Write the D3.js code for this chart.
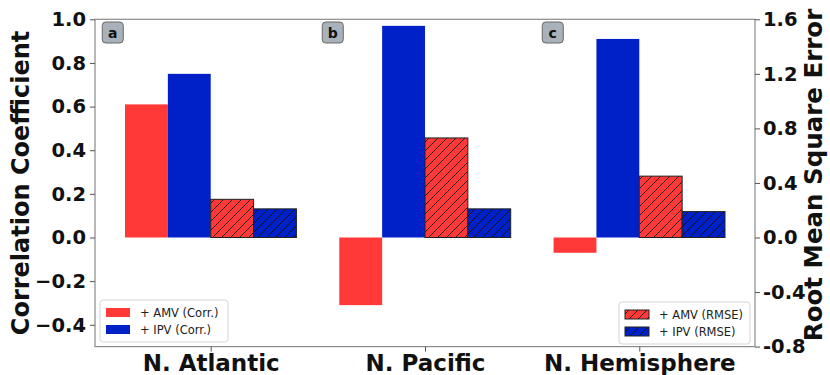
<!DOCTYPE html>
<html>
<head>
<meta charset="utf-8">
<script src="https://cdn.jsdelivr.net/npm/d3@7"></script>
<style>
  html, body { margin: 0; padding: 0; background: #fff; }
  svg { display: block; font-family: "DejaVu Sans", sans-serif; }
</style>
</head>
<body>
<svg id="chart" width="830" height="375"></svg>
<script>
const categories = ["N. Atlantic", "N. Pacific", "N. Hemisphere"];
const panelLabels = ["a", "b", "c"];
const amvCorr = [0.61, -0.31, -0.07];
const ipvCorr = [0.75, 0.97, 0.91];
const amvRmse = [0.28, 0.73, 0.45];
const ipvRmse = [0.21, 0.21, 0.19];
const corrTicks = [-0.4, -0.2, 0.0, 0.2, 0.4, 0.6, 0.8, 1.0];
const rmseTicks = [-0.8, -0.4, 0.0, 0.4, 0.8, 1.2, 1.6];
const rmseTickLabels = ["-0.8", "-0.4", "0.0", "0.4", "0.8", "1.2", "1.6"];
const seriesNames = ["+ AMV (Corr.)", "+ IPV (Corr.)", "+ AMV (RMSE)", "+ IPV (RMSE)"];

const RED = "#ff3838", BLUE = "#0020c8";
const svg = d3.select("#chart");
const pLeft = 95, pRight = 755, pTop = 19.3, pBottom = 346.6;

const defs = svg.append("defs");
function hatch(id, color) {
  const p = defs.append("pattern").attr("id", id).attr("patternUnits", "userSpaceOnUse")
    .attr("width", 9).attr("height", 9);
  p.append("rect").attr("width", 9).attr("height", 9).attr("fill", color);
  p.append("path").attr("d", "M-2,2 L2,-2 M0,9 L9,0 M7,11 L11,7")
    .attr("stroke", "#111").attr("stroke-width", 0.9);
}
hatch("hRed", RED);
hatch("hBlue", BLUE);

const x = d3.scaleLinear().domain([-0.54, 2.54]).range([pLeft, pRight]);
const yL = d3.scaleLinear().domain([-0.5, 1.0]).range([pBottom, pTop]);
const yR = d3.scaleLinear().domain([-0.8, 1.6]).range([pBottom, pTop]);
const bw = 0.2;

const series = [
  {vals: amvCorr, off: -0.3, y: yL, fill: RED, stroke: "none"},
  {vals: ipvCorr, off: -0.1, y: yL, fill: BLUE, stroke: "none"},
  {vals: amvRmse, off: 0.1, y: yR, fill: "url(#hRed)", stroke: "#222"},
  {vals: ipvRmse, off: 0.3, y: yR, fill: "url(#hBlue)", stroke: "#222"}
];
series.forEach(s => {
  svg.append("g").selectAll("rect").data(s.vals).join("rect")
    .attr("x", (d, i) => x(i + s.off - bw / 2))
    .attr("width", x(bw) - x(0))
    .attr("y", d => Math.min(s.y(d), s.y(0)))
    .attr("height", d => Math.abs(s.y(d) - s.y(0)))
    .attr("fill", s.fill)
    .attr("stroke", s.stroke)
    .attr("stroke-width", s.stroke === "none" ? 0 : 1);
});

// frame
svg.append("rect").attr("x", pLeft).attr("y", pTop).attr("width", pRight - pLeft).attr("height", pBottom - pTop)
  .attr("fill", "none").attr("stroke", "#8a8a8a").attr("stroke-width", 1.2);

// left axis
const gL = svg.append("g").attr("transform", `translate(${pLeft},0)`)
  .call(d3.axisLeft(yL).tickValues(corrTicks).tickSize(5).tickPadding(4)
    .tickFormat(d => d3.format(".1f")(d).replace("-", "\u2212")));
gL.select(".domain").remove();
gL.selectAll("line").attr("stroke", "#555");
gL.selectAll("text").attr("font-size", 19.5).attr("font-weight", "bold").attr("fill", "#111")
  .attr("font-family", "DejaVu Sans");

// right axis
const gR = svg.append("g").attr("transform", `translate(${pRight},0)`)
  .call(d3.axisRight(yR).tickValues(rmseTicks).tickSize(5).tickPadding(3)
    .tickFormat((d, i) => rmseTickLabels[i]));
gR.select(".domain").remove();
gR.selectAll("line").attr("stroke", "#555");
gR.selectAll("text").attr("font-size", 19.5).attr("font-weight", "bold").attr("fill", "#111")
  .attr("font-family", "DejaVu Sans");

// bottom axis
const gB = svg.append("g").attr("transform", `translate(0,${pBottom})`)
  .call(d3.axisBottom(x).tickValues([0, 1, 2]).tickSize(5).tickPadding(3)
    .tickFormat((d, i) => categories[i]));
gB.select(".domain").remove();
gB.selectAll("line").attr("stroke", "#555");
gB.selectAll("text").attr("font-size", 23).attr("font-weight", "bold").attr("fill", "#111")
  .attr("font-family", "DejaVu Sans");

// axis titles
svg.append("text").attr("transform", `translate(29,${(pTop + pBottom) / 2}) rotate(-90)`)
  .attr("text-anchor", "middle").attr("font-size", 24).attr("font-weight", "bold").attr("fill", "#111")
  .text("Correlation Coefficient");
svg.append("text").attr("transform", `translate(815,${(pTop + pBottom) / 2 - 8}) rotate(-90)`)
  .attr("text-anchor", "middle").attr("dominant-baseline", "middle")
  .attr("font-size", 24.5).attr("font-weight", "bold").attr("fill", "#111")
  .text("Root Mean Square Error");

// panel labels
panelLabels.forEach((t, i) => {
  const bx = pLeft + (pRight - pLeft) * (0.011 + i / 3);
  const g = svg.append("g").attr("transform", `translate(${bx},22)`);
  g.append("rect").attr("width", 21).attr("height", 21).attr("rx", 3.5)
    .attr("fill", "#a9b2bb").attr("stroke", "#666").attr("stroke-width", 1);
  g.append("text").attr("x", 10.5).attr("y", 15.5).attr("text-anchor", "middle")
    .attr("font-size", 14).attr("font-weight", "bold").attr("fill", "#111").text(t);
});

// legends
function legend(x0, y0, w, items) {
  const g = svg.append("g").attr("transform", `translate(${x0},${y0})`);
  g.append("rect").attr("width", w).attr("height", 42).attr("rx", 3)
    .attr("fill", "#fff").attr("fill-opacity", 0.85).attr("stroke", "#d5d5d5");
  items.forEach((it, k) => {
    g.append("rect").attr("x", 6).attr("y", 8 + k * 17).attr("width", 24).attr("height", 9)
      .attr("fill", it.fill).attr("stroke", it.stroke).attr("stroke-width", it.stroke === "none" ? 0 : 1);
    g.append("text").attr("x", 40).attr("y", 17 + k * 17).attr("font-size", 11.5).attr("fill", "#222")
      .text(it.name);
  });
}
legend(100, 300, 128, [
  {name: seriesNames[0], fill: RED, stroke: "none"},
  {name: seriesNames[1], fill: BLUE, stroke: "none"}
]);
legend(619, 302, 131, [
  {name: seriesNames[2], fill: "url(#hRed)", stroke: "#222"},
  {name: seriesNames[3], fill: "url(#hBlue)", stroke: "#222"}
]);
</script>
</body>
</html>
